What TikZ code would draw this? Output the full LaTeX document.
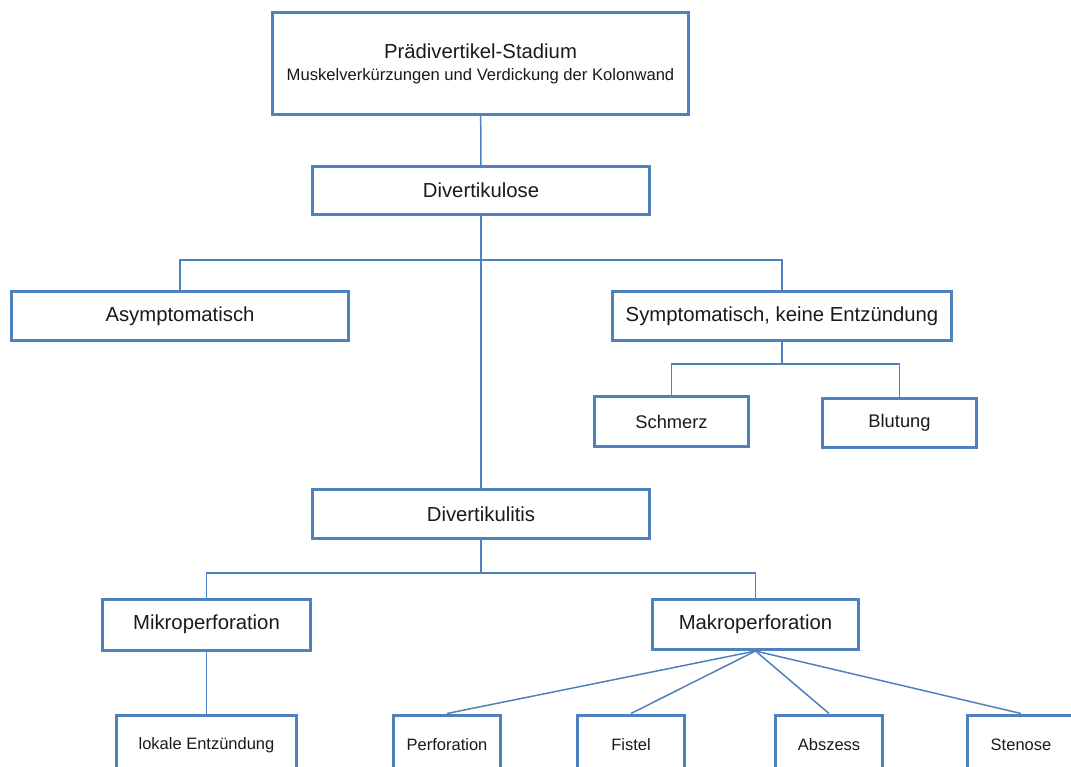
\documentclass[tikz,border=0pt]{standalone}
\usepackage{fontspec}
\setmainfont{Liberation Sans}
\usepackage{xcolor}
\definecolor{boxblue}{HTML}{4F81BD}
\definecolor{txtgrey}{HTML}{1A1A1A}

\begin{document}
\begin{tikzpicture}[x=1pt, y=-1pt,
	box/.style = {draw=boxblue, line width=3pt, fill=white, inner sep=0pt, align=center, text=txtgrey},
	big/.style = {font=\fontsize{20.3}{23}\selectfont},
	mid/.style = {font=\fontsize{18.3}{22}\selectfont},
	small/.style = {font=\fontsize{16.5}{20}\selectfont},
	conn/.style = {draw=boxblue, line width=1.5pt}]
	\useasboundingbox (0,0) rectangle (1071,767);
	
	\node [box, big, minimum width=416pt, minimum height=102pt] (praed) at (480.5,63.5)
		{Prädivertikel-Stadium\\[-1pt]{\fontsize{16.6}{20}\selectfont Muskelverkürzungen und Verdickung der Kolonwand}};
	\node [box, big, minimum width=337pt, minimum height=48pt] (divose) at (481,190.5) {Divertikulose};
	
	\node [box, big, minimum width=337pt, minimum height=49pt] (asym) at (180,316) {Asymptomatisch};
	\node [box, big, minimum width=339pt, minimum height=49pt] (sympt) at (782,316) {Symptomatisch, keine Entzündung};
	
	\node [box, mid, minimum width=154pt, minimum height=50pt] (schmerz) at (671.5,421.5) {Schmerz};
	\node [box, mid, minimum width=154pt, minimum height=49pt] (blutung) at (899.5,423) {Blutung};
	
	\node [box, big, minimum width=337pt, minimum height=49pt] (divitis) at (481,514) {Divertikulitis};
	
	\node [box, big, minimum width=208pt, minimum height=51pt] (mikro) at (206.5,624.5) {Mikroperforation};
	\node [box, big, minimum width=206pt, minimum height=50pt] (makro) at (755.5,624.5) {Makroperforation};
	
	\node [box, small, minimum width=180pt, minimum height=60pt] (lokal) at (206.5,745) {lokale Entzündung};
	\node [box, small, minimum width=107pt, minimum height=60pt] (perf) at (447,745) {Perforation};
	\node [box, small, minimum width=107pt, minimum height=60pt] (fistel) at (631,745) {Fistel};
	\node [box, small, minimum width=107pt, minimum height=60pt] (absz) at (829,745) {Abszess};
	\node [box, small, minimum width=107pt, minimum height=60pt] (sten) at (1021,745) {Stenose};
	
	\coordinate (j1) at (481,260);
	\coordinate (j2) at (782,364);
	\coordinate (j3) at (481,573);
	
	\draw [conn] (praed) -- (divose);
	\draw [conn] (divose) -- (divitis);
	\draw [conn] (j1) -| (asym.north);
	\draw [conn] (j1) -| (sympt.north);
	
	\draw [conn] (sympt) -- (j2);
	\draw [conn] (j2) -| (schmerz.north);
	\draw [conn] (j2) -| (blutung.north);
	
	\draw [conn] (divitis) -- (j3);
	\draw [conn] (j3) -| (mikro.north);
	\draw [conn] (j3) -| (makro.north);
	
	\draw [conn] (mikro) -- (lokal);
	\draw [conn] (makro.south) -- (perf.north);
	\draw [conn] (makro.south) -- (fistel.north);
	\draw [conn] (makro.south) -- (absz.north);
	\draw [conn] (makro.south) -- (sten.north);
\end{tikzpicture}
\end{document}
